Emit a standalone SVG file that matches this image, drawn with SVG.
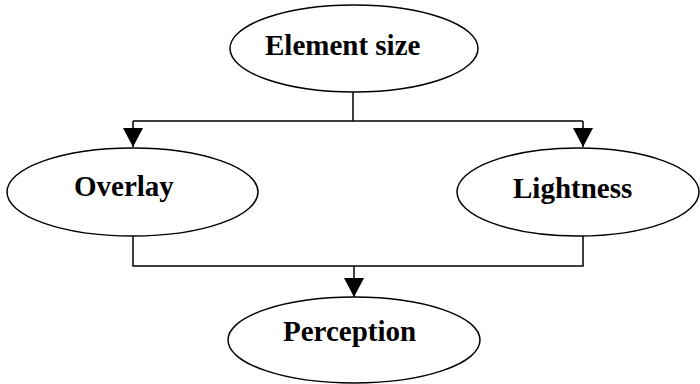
<svg xmlns="http://www.w3.org/2000/svg" width="700" height="384" viewBox="0 0 700 384">
<style>
.node ellipse{fill:#fff;stroke:#000;stroke-width:1.5}
.node text{font-family:"Liberation Serif","Times New Roman",serif;font-weight:bold;font-size:29px;fill:#000}
.conn path{fill:none;stroke:#000;stroke-width:1.5}
</style>
<defs>
<marker id="arr" markerUnits="userSpaceOnUse" markerWidth="20" markerHeight="20" refX="19" refY="10" orient="auto">
<path d="M0,0 L19,10 L0,20 z" fill="#000"/>
</marker>
</defs>
<g class="conn" id="connectors">
<path d="M353,92 V121"/>
<path d="M133,121 H583"/>
<path d="M133,121 V147" marker-end="url(#arr)"/>
<path d="M583,121 V147" marker-end="url(#arr)"/>
<path d="M133,236 V266 H583 V236"/>
<path d="M354,266 V297" marker-end="url(#arr)"/>
</g>
<g class="node" id="element-size">
<ellipse cx="354" cy="48.5" rx="124" ry="43.5"/>
<text x="265" y="55">Element size</text>
</g>
<g class="node" id="overlay">
<ellipse cx="132.5" cy="192" rx="125.5" ry="44"/>
<text x="74" y="196">Overlay</text>
</g>
<g class="node" id="lightness">
<ellipse cx="578" cy="192" rx="121" ry="44"/>
<text x="513" y="198">Lightness</text>
</g>
<g class="node" id="perception">
<ellipse cx="354" cy="340" rx="126" ry="43"/>
<text x="283" y="341">Perception</text>
</g>
</svg>
